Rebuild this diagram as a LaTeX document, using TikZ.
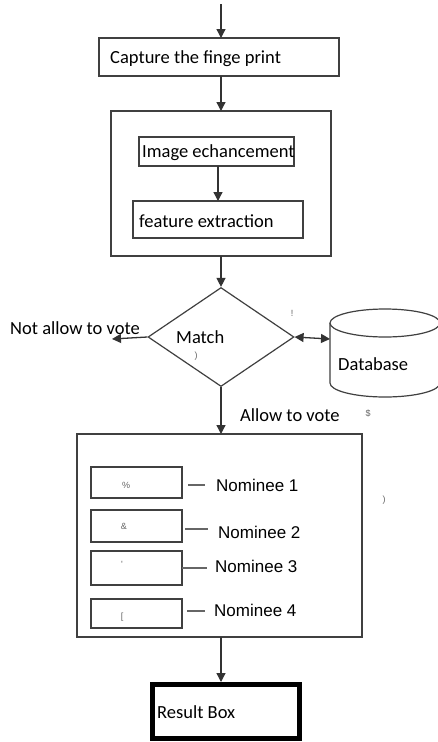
\documentclass[tikz,border=0pt]{standalone}
\usepackage{fontspec}
\setmainfont{Carlito}
\newfontfamily\arialfont{Liberation Sans}
\usetikzlibrary{arrows.meta,shapes.geometric}

\tikzset{
  box/.style={draw=black!75, line width=1.2pt, fill=white, inner sep=0pt},
  flow/.style={draw=black!80, line width=1.3pt, -{Triangle[length=9pt,width=9pt]}},
  bidir/.style={draw=black!80, line width=1.3pt, {Triangle[length=9pt,width=9pt]}-{Triangle[length=9pt,width=9pt]}},
  tie/.style={draw=black!60, line width=1.2pt},
  lbl/.style={anchor=base west, inner sep=0pt, font=\fontsize{18.5}{20}\selectfont},
  nlbl/.style={anchor=base west, inner sep=0pt, font=\arialfont\fontsize{17}{19}\selectfont},
  stray/.style={inner sep=0pt, text=black!60, font=\arialfont\fontsize{9}{10}\selectfont},
}

\begin{document}
\begin{tikzpicture}[x=1pt,y=-1pt]
\useasboundingbox (0,0) rectangle (438,742);
\clip (0,0) rectangle (438,742);
\fill[white] (0,0) rectangle (438,742);

% entry point
\coordinate (start) at (221,4);

% capture stage
\draw[box] (99,38) rectangle (339,76);
\node (capN) at (221,38) {};
\node (capS) at (221,76) {};
\node[lbl] (cap) at (110,63) {Capture the finge print};

% preprocessing block
\draw[box] (111,111) rectangle (331,256);
\node (preN) at (221,111) {};
\node (preS) at (221,256) {};
\draw[box] (139,137) rectangle (294,166);
\node (enhS) at (218,166) {};
\node[lbl] (enh) at (142,157) {Image echancement};
\draw[box] (133,201) rectangle (303,238);
\node (featN) at (218,201) {};
\node[lbl] (feat) at (139,227) {feature extraction};

% decision
\node[diamond, draw=black!75, line width=1.2pt, fill=white, minimum width=146pt, minimum height=99pt, inner sep=0pt] (match) at (221,337) {};
\node[lbl] (matchtxt) at (176,343) {Match};
\coordinate (rejectEnd) at (112,339);
\node[lbl] (reject) at (10,334) {Not allow to vote};

% database cylinder (runs off the right edge)
\coordinate (dbW) at (330,339);
\draw[black!75, line width=1.2pt, fill=white]
  (330,323) -- (330,383) arc[start angle=180, end angle=0, x radius=55, y radius=14]
  -- (440,323);
\draw[black!75, line width=1.2pt, fill=white] (385,323) ellipse[x radius=55, y radius=14];
\node[lbl] (db) at (338,370) {Database};
\node[lbl] (accept) at (240,421) {Allow to vote};

% voting panel
\draw[box] (77,434) rectangle (362,637);
\node (voteN) at (221,434) {};
\node (voteS) at (221,637) {};
\draw[box] (91,467) rectangle (182,498);
\draw[box] (91,510) rectangle (182,542);
\draw[box] (91,551) rectangle (182,585);
\draw[box] (91,599) rectangle (182,628);
\coordinate (n1a) at (188,485); \coordinate (n1b) at (205,485);
\coordinate (n2a) at (185,529); \coordinate (n2b) at (208,529);
\coordinate (n3a) at (182,568); \coordinate (n3b) at (207,568);
\coordinate (n4a) at (187,611); \coordinate (n4b) at (205,611);
\draw[tie] (n1a) -- (n1b);
\draw[tie] (n2a) -- (n2b);
\draw[tie] (n3a) -- (n3b);
\draw[tie] (n4a) -- (n4b);
\node[nlbl] (nom1) at (216,491) {Nominee 1};
\node[nlbl] (nom2) at (218,538) {Nominee 2};
\node[nlbl] (nom3) at (215,572) {Nominee 3};
\node[nlbl] (nom4) at (214,616) {Nominee 4};

% result
\draw[black, line width=5pt] (152,684) rectangle (299,738);
\node (resN) at (221,682) {};
\node[lbl] (res) at (157,718) {Result Box};

% leftover glyphs
\node[stray] (g1) at (126,485) {\%};
\node[stray] (g2) at (124,526) {\&};
\node[stray] (g3) at (122,564) {'};
\node[stray] (g4) at (122,617) {[};
\node[stray] (g5) at (292,313) {!};
\node[stray] (g6) at (368,413) {\$};
\node[stray] (g7) at (384,500) {)};
\node[stray] (g8) at (196,356) {)};

% connectors
\draw[flow] (start) -- (capN.center);
\draw[flow] (capS.center) -- (preN.center);
\draw[flow] (enhS.center) -- (featN.center);
\draw[flow] (preS.center) -- (match.north);
\draw[flow] (match.west) -- (rejectEnd);
\draw[bidir] (match.east) -- (dbW);
\draw[flow] (match.south) -- (voteN.center);
\draw[flow] (voteS.center) -- (resN.center);
\end{tikzpicture}
\end{document}
